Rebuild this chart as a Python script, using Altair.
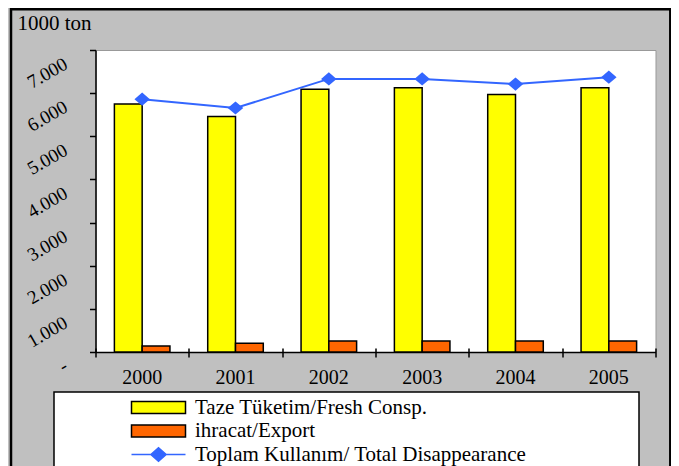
import altair as alt
import pandas as pd

# ---- data ----
years = ["2000", "2001", "2002", "2003", "2004", "2005"]
fresh = [5750, 5460, 6090, 6125, 5970, 6125]
export = [140, 200, 255, 255, 255, 255]
total = [5860, 5655, 6330, 6330, 6210, 6370]

S_FRESH = "Taze Tüketim/Fresh Consp."
S_EXPORT = "ihracat/Export"
S_TOTAL = "Toplam Kullanım/ Total Disappearance"
series_names = [S_FRESH, S_EXPORT, S_TOTAL]
fill_colors = ["#FFFF00", "#FF6600", "#3366FF"]
stroke_colors = ["black", "black", "#3366FF"]
y_ticks = [0, 1000, 2000, 3000, 4000, 5000, 6000, 7000]

bars_df = pd.DataFrame({
    "year": years * 2,
    "series": [S_FRESH] * len(years) + [S_EXPORT] * len(years),
    "value": fresh + export,
})
line_df = pd.DataFrame({"year": years, "series": [S_TOTAL] * len(years), "value": total})
frame_df = pd.DataFrame({"frame": [1]})

FONT = "Liberation Serif"
BLUE = "#3366FF"
# legend symbol paths (unit = 9 px); the trailing moveTo widens the legend box
WIDEN = "M52.4,0"
RECT_PATH = "M-3,-0.667H3V0.667H-3Z" + WIDEN
LINE_PATH = "M-3,0H3M-0.85,0L0,-0.75L0.85,0L0,0.75Z" + WIDEN
DIAMOND = "M-1,0L0,-0.85L1,0L0,0.85Z"

legend = alt.Legend(
    title=None, orient="none", legendX=-41.5, legendY=342, direction="vertical",
    fillColor="white", strokeColor="black", padding=5,
    symbolSize=324, symbolOffset=89, labelOffset=26, rowPadding=1.5,
    symbolStrokeWidth=1.5, symbolOpacity=1,
    labelFont=FONT, labelFontSize=21, labelColor="black", labelLimit=800,
    labelBaseline="middle",
)
fill_scale = alt.Scale(domain=series_names, range=fill_colors)
stroke_scale = alt.Scale(domain=series_names, range=stroke_colors)
shape_scale = alt.Scale(domain=series_names, range=[RECT_PATH, RECT_PATH, LINE_PATH])

x_scale = alt.Scale(paddingInner=0, paddingOuter=0)
y_scale = alt.Scale(domain=[0, 7000], nice=False)

x_labels_axis = alt.Axis(
    orient="bottom", ticks=False, domain=True, domainColor="black", domainWidth=1.5,
    labelAngle=0, labelFont=FONT, labelFontSize=20, labelColor="black",
    labelBaseline="alphabetic", labelPadding=31, title=None, grid=False,
)
x_ticks_axis = alt.Axis(
    orient="bottom", labels=False, domain=False, ticks=True, tickBand="extent",
    tickSize=9, offset=-4, tickColor="black", tickWidth=1.5, title=None, grid=False,
)
y_axis = alt.Axis(
    values=y_ticks,
    labelExpr="datum.value == 0 ? '-' : replace(format(datum.value, ','), ',', '.')",
    labelAngle=330, labelAlign="right", labelBaseline="middle", labelOffset=12,
    labelPadding=24, labelFont=FONT, labelFontSize=19, labelFontWeight="normal",
    labelColor="black",
    labelOverlap=False, tickSize=6, tickColor="black", tickWidth=1.5,
    domainColor="black", domainWidth=1.5, grid=False,
    title="1000 ton", titleAngle=0, titleX=-78.5, titleY=-21, titleAlign="left",
    titleBaseline="alphabetic", titleFont=FONT, titleFontSize=21,
    titleFontWeight="normal", titleColor="black",
)

bars = alt.Chart(bars_df).mark_bar(strokeWidth=1.5, opacity=1).encode(
    x=alt.X("year:N", scale=x_scale, axis=x_labels_axis, sort=years),
    xOffset=alt.XOffset("series:N", sort=[S_FRESH, S_EXPORT],
                        scale=alt.Scale(domain=[S_FRESH, S_EXPORT], paddingInner=0, paddingOuter=0.68)),
    y=alt.Y("value:Q", scale=y_scale, axis=y_axis),
    fill=alt.Fill("series:N", scale=fill_scale, legend=legend),
    stroke=alt.Stroke("series:N", scale=stroke_scale, legend=legend),
)
line = alt.Chart(line_df).mark_line(
    color=BLUE, strokeWidth=2,
    point=alt.OverlayMarkDef(shape=DIAMOND, size=240, filled=True, color=BLUE, opacity=1),
).encode(
    x=alt.X("year:N", scale=x_scale, axis=x_ticks_axis, sort=years),
    y=alt.Y("value:Q", scale=y_scale, axis=y_axis),
)
# invisible layer that carries the legend symbols (shape per series)
legend_carrier = alt.Chart(line_df).mark_point(size=0, filled=True, strokeWidth=1.5, opacity=1).encode(
    x=alt.X("year:N", scale=x_scale, axis=None, sort=years),
    y=alt.Y("value:Q", scale=y_scale, axis=y_axis),
    fill=alt.Fill("series:N", scale=fill_scale, legend=legend),
    stroke=alt.Stroke("series:N", scale=stroke_scale, legend=legend),
    shape=alt.Shape("series:N", scale=shape_scale, legend=legend),
)
# decorative outer chart frame
frame = alt.Chart(frame_df).mark_rect(
    filled=False, stroke="black", strokeWidth=2.5, clip=False
).encode(
    x=alt.value(-84.5), x2=alt.value(574.8), y=alt.value(-40.8), y2=alt.value(440),
)

chart = alt.layer(bars, line, legend_carrier, frame).resolve_axis(x="independent").properties(
    width=560, height=302,
    autosize=alt.AutoSizeParams(type="none"),
    padding={"left": 87.5, "top": 42, "right": 15.5, "bottom": 114},
    background="#C0C0C0",
).configure(font=FONT
).configure_axis(labelFont=FONT, titleFont=FONT
).configure_view(fill="white", stroke="#999999", strokeWidth=1
).configure_legend(strokeWidth=1.5)

chart.save("out.html", embed_options={"renderer": "svg", "actions": False})
